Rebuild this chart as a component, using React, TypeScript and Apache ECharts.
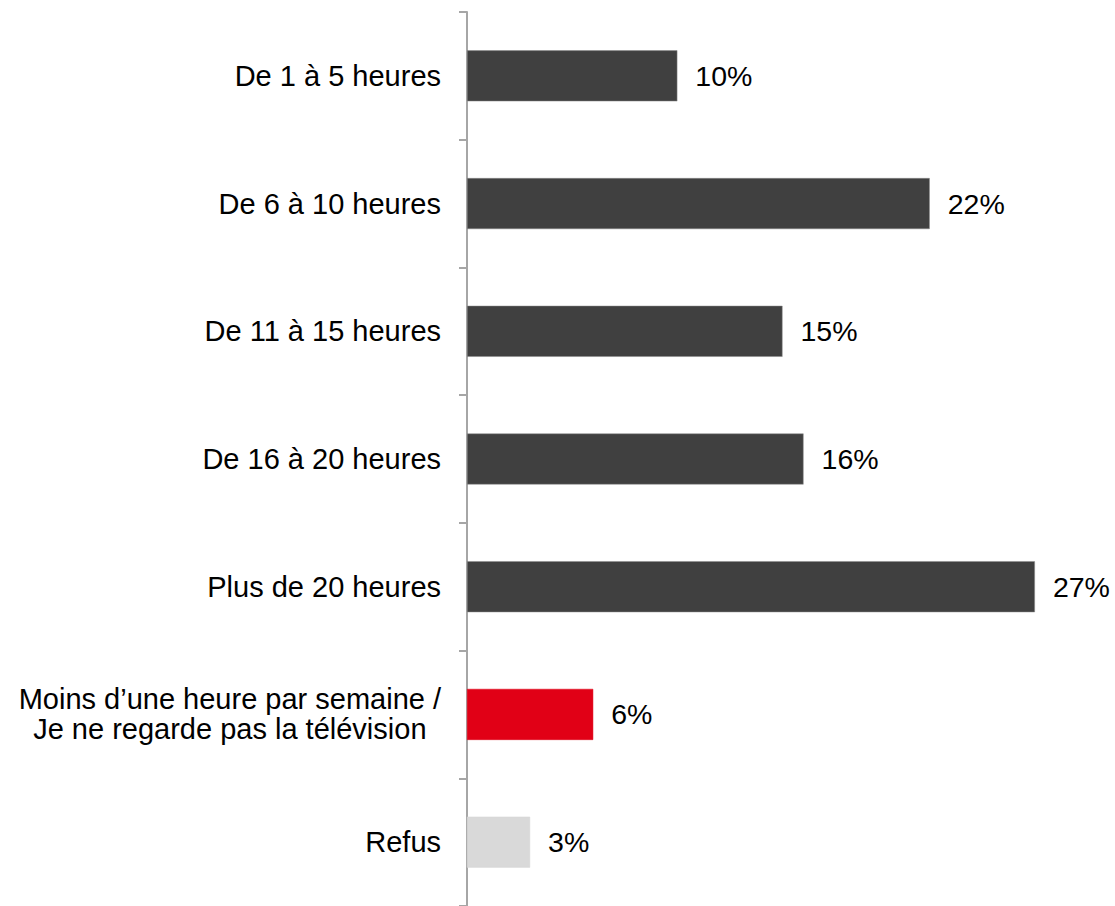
import React, { useEffect, useRef } from "react";
import * as echarts from "echarts";

const categories = [
  "De 1 à 5 heures",
  "De 6 à 10 heures",
  "De 11 à 15 heures",
  "De 16 à 20 heures",
  "Plus de 20 heures",
  "Moins d’une heure par semaine /\nJe ne regarde pas la télévision",
  "Refus",
];
const values = [10, 22, 15, 16, 27, 6, 3];
const barColors = ["#404040", "#404040", "#404040", "#404040", "#404040", "#E10016", "#D9D9D9"];

export default function App() {
  const ref = useRef<HTMLDivElement>(null);
  useEffect(() => {
    document.body.style.margin = "0";
    const chart = echarts.init(ref.current!, undefined, { renderer: "svg" });
    const font = "'Liberation Sans', Arial, sans-serif";
    chart.setOption({
      animation: false,
      grid: { left: 467, top: 12, width: 631, height: 900, containLabel: false },
      xAxis: { type: "value", min: 0, max: 30, show: false },
      yAxis: {
        type: "category",
        inverse: true,
        data: categories,
        boundaryGap: true,
        axisLine: { show: true, lineStyle: { color: "#A6A6A6", width: 2 } },
        axisTick: { show: true, length: 8, interval: 0, alignWithLabel: false, lineStyle: { color: "#A6A6A6", width: 2 } },
        axisLabel: {
          margin: 26,
          fontSize: 29,
          fontFamily: font,
          color: "#000",
          interval: 0,
          formatter: (v: string) =>
            v
              .split("\n")
              .map((l) => "{c|" + l + "}")
              .join("\n"),
          rich: { c: { fontSize: 29, fontFamily: font, color: "#000", lineHeight: 30, align: "center" } },
        },
        splitLine: { show: false },
      },
      series: [
        {
          type: "bar",
          barWidth: 51,
          data: values.map((v, i) => ({ value: v, itemStyle: { color: barColors[i], borderColor: i < 5 ? "#8a8a8a" : barColors[i], borderWidth: 0.5 } })),
          label: {
            show: true,
            position: "right",
            distance: 18,
            formatter: "{c}%",
            fontSize: 28.5,
            fontFamily: font,
            color: "#000",
          },
        },
      ],
    });
    return () => chart.dispose();
  }, []);
  return <div ref={ref} style={{ width: 1115, height: 906 }} />;
}
